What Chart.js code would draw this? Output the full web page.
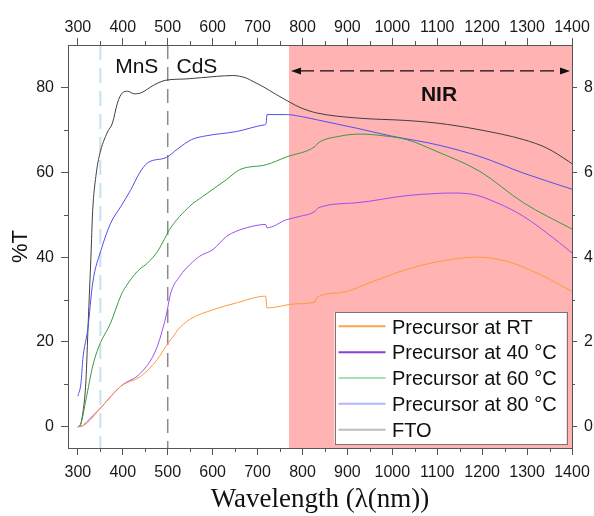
<!DOCTYPE html>
<html><head><meta charset="utf-8">
<script src="https://cdn.jsdelivr.net/npm/chart.js@4"></script>
<style>html,body{margin:0;padding:0;background:#fff}</style>
</head><body>
<canvas id="c" width="594" height="516" style="width:594px;height:516px;display:block"></canvas>
<script>
// ---------- data ----------
const rtNm  = [300,310,321,351,396,440,477,496,515,522,549,601,653,718,721,787,828,831,883,958,1032,1106,1188,1255,1329,1400];
const rtT   = [0,0.2,0.9,4.5,9.6,11.9,15.9,19,21.7,22.8,25.3,27.6,29.2,30.8,28,29,29.4,30.4,31.6,34.3,37.1,39,40,39,35.9,31.9];

const c40Nm = [300,310,321,351,396,440,474,496,507,527,550,571,601,631,653,675,718,721,764,794,828,835,920,1032,1099,1129,1173,1233,1292,1344,1400];
const c40T  = [0,0.2,1.3,4.5,9.6,12.7,18.2,26,31.6,35.5,38.3,40.2,41.8,44.9,46.1,46.9,47.7,46.9,48.8,49.6,50.8,51.6,52.8,54.5,55,55.1,54.9,52.8,49.6,45.7,41];

const c60Nm = [300,307,318,333,347,373,396,407,433,455,477,492,504,549,578,631,660,720,764,828,835,883,928,980,1032,1099,1195,1292,1400];
const c60T  = [0,0.9,6.4,14.3,19,24.5,31,33.1,36.7,38.6,41.3,44.1,46.5,52,54.3,58.3,60.6,61.8,63.6,66.1,66.9,68.5,69,68.6,67.7,64.9,60.2,52.8,46.6];

const c80Nm = [300,307,311,322,333,352,373,396,418,437,455,497,522,553,586,653,716,719,721,764,794,831,920,995,1099,1195,1292,1400];
const c80T  = [7.2,10.4,15.9,23,33.9,41.8,48,52,55.9,59.8,62.2,63.5,65.5,67.7,68.6,69.6,71.2,71.4,73.6,73.6,73.2,72.4,70.4,68.6,66.5,63.7,59.8,56];

const ftoNm = [300,305,310,318,323,329,333,340,348,366,377,388,399,411,425,440,470,496,541,608,645,675,690,712,742,772,794,831,920,1032,1099,1195,1292,1344,1392,1400];
const ftoT  = [0,0.3,2.5,11,24.5,40,51,59,64,69.5,71.6,76.3,78.7,79.1,78.5,78.7,80.6,81.7,82,82.6,82.8,82.2,81.4,80.2,78.3,76.5,75.3,74,72.8,72.2,71.6,70,67.7,65.7,62.6,62];

const seriesLabels = ['Precursor at RT','Precursor at 40 °C','Precursor at 60 °C','Precursor at 80 °C','FTO'];
const nirRange   = [770, 1400];
const edgeLines  = [350, 500];
const regionText = ['MnS','CdS','NIR'];

// ---------- styles ----------
const lineColors   = ['#ff9a3c','#9d4ff0','#3c9a3c','#5050f0','#404040'];
const legendColors = ['#ffa24a','#8a3fe0','#a6e2b4','#b4b4ff','#bdbdbd'];
const axisColor = '#555';

function pts(nm, t){ return nm.map((v,i)=>({x:v, y:t[i]})); }
const allSeries = [[rtNm,rtT],[c40Nm,c40T],[c60Nm,c60T],[c80Nm,c80T],[ftoNm,ftoT]];

const datasets = allSeries.map((s,i)=>({
  label: seriesLabels[i],
  data: pts(s[0], s[1]),
  borderColor: lineColors[i],
  backgroundColor: lineColors[i],
  borderWidth: 1,
  pointRadius: 0,
  cubicInterpolationMode: 'monotone',
  xAxisID: 'x', yAxisID: 'y'
}));

const tickFont = {family: 'Liberation Sans, Arial, sans-serif', size: 16};
const plain = v => String(v);

const decor = {
  id: 'decor',
  beforeDraw(chart){
    const {ctx, chartArea: a, scales:{x}} = chart;
    ctx.save();
    ctx.beginPath(); ctx.rect(a.left, a.top, a.width, a.height); ctx.clip();
    const x0 = x.getPixelForValue(nirRange[0]), x1 = x.getPixelForValue(nirRange[1]);
    ctx.fillStyle = 'rgb(255,179,179)';
    ctx.fillRect(x0, a.top, x1 - x0, a.height);
    const styles = [{c:'#c6e2ee', w:2, d:[15,8]}, {c:'#8a8a8a', w:1.5, d:[14,8]}];
    edgeLines.forEach((v,i)=>{
      const px = x.getPixelForValue(v);
      ctx.strokeStyle = styles[i].c; ctx.lineWidth = styles[i].w; ctx.setLineDash(styles[i].d);
      ctx.beginPath(); ctx.moveTo(px, a.top); ctx.lineTo(px, a.bottom); ctx.stroke();
    });
    ctx.restore();
  },
  afterDraw(chart){
    const {ctx, chartArea: a, scales:{x, y}} = chart;
    ctx.save();
    // minor ticks
    ctx.strokeStyle = axisColor; ctx.lineWidth = 1; ctx.setLineDash([]);
    ctx.beginPath();
    for (let v = 350; v < 1400; v += 100){
      const px = Math.round(x.getPixelForValue(v)) + 0.5;
      ctx.moveTo(px, a.bottom); ctx.lineTo(px, a.bottom + 4);
      ctx.moveTo(px, a.top); ctx.lineTo(px, a.top - 4);
    }
    for (let v = 10; v < 90; v += 20){
      const py = Math.round(y.getPixelForValue(v)) + 0.5;
      ctx.moveTo(a.left, py); ctx.lineTo(a.left - 4, py);
      ctx.moveTo(a.right, py); ctx.lineTo(a.right + 3, py);
    }
    ctx.stroke();

    // region labels
    ctx.fillStyle = '#111';
    ctx.textAlign = 'center'; ctx.textBaseline = 'alphabetic';
    ctx.font = '21px "Liberation Sans", Arial, sans-serif';
    ctx.fillText(regionText[0], x.getPixelForValue(431), y.getPixelForValue(83.3));
    ctx.fillText(regionText[1], x.getPixelForValue(565), y.getPixelForValue(83.3));
    ctx.font = 'bold 21px "Liberation Sans", Arial, sans-serif';
    ctx.fillText(regionText[2], x.getPixelForValue(1104), y.getPixelForValue(76.8));

    // NIR double arrow
    const ay = y.getPixelForValue(83.9);
    const ax0 = x.getPixelForValue(nirRange[0]) + 2, ax1 = x.getPixelForValue(nirRange[1]) - 2;
    ctx.strokeStyle = '#111'; ctx.lineWidth = 1.3; ctx.setLineDash([14,6]);
    ctx.beginPath(); ctx.moveTo(ax0 + 9, ay); ctx.lineTo(ax1 - 9, ay); ctx.stroke();
    ctx.setLineDash([]);
    ctx.fillStyle = '#111';
    ctx.beginPath(); ctx.moveTo(ax0, ay); ctx.lineTo(ax0 + 10, ay - 3.5); ctx.lineTo(ax0 + 10, ay + 3.5); ctx.closePath(); ctx.fill();
    ctx.beginPath(); ctx.moveTo(ax1, ay); ctx.lineTo(ax1 - 10, ay - 3.5); ctx.lineTo(ax1 - 10, ay + 3.5); ctx.closePath(); ctx.fill();

    // legend
    const bw = 232, bh = 132;
    const bx = a.right - 5.5 - bw, by = a.bottom - 4 - bh;
    ctx.fillStyle = '#fff'; ctx.fillRect(bx, by, bw, bh);
    ctx.strokeStyle = '#777'; ctx.lineWidth = 1;
    ctx.strokeRect(Math.round(bx) + 0.5, Math.round(by) + 0.5, bw, bh);
    ctx.font = '20px "Liberation Sans", Arial, sans-serif';
    ctx.textAlign = 'left'; ctx.textBaseline = 'alphabetic';
    chart.data.datasets.forEach((ds, i)=>{
      const base = by + 21.6 + i * 25.85;
      ctx.strokeStyle = legendColors[i]; ctx.lineWidth = 2;
      ctx.beginPath(); ctx.moveTo(bx + 4, base - 7.3); ctx.lineTo(bx + 51, base - 7.3); ctx.stroke();
      ctx.fillStyle = '#111';
      ctx.fillText(ds.label, bx + 57.5, base);
    });
    ctx.restore();
  }
};

function axisCommon(extra){
  return Object.assign({
    type: 'linear',
    border: {display: true, color: axisColor, width: 1},
    grid: {display: true, drawOnChartArea: false, drawTicks: true, tickLength: 7, color: axisColor},
  }, extra);
}
function noPad(s){ s.paddingLeft = 0; s.paddingRight = 0; s.paddingTop = 0; s.paddingBottom = 0; }

new Chart(document.getElementById('c'), {
  type: 'line',
  data: { datasets },
  options: {
    responsive: false, animation: false,
    layout: {padding: 0},
    plugins: {legend: {display: false}, tooltip: {enabled: false}},
    scales: {
      x: axisCommon({
        position: 'bottom', min: 278, max: 1400,
        ticks: {stepSize: 100, includeBounds: false, autoSkip: false, maxRotation: 0, font: tickFont, color: '#1a1a1a', padding: 8, callback: plain},
        title: {display: true, text: 'Wavelength (λ(nm))', color: '#111',
                font: {family: 'Liberation Serif, "Times New Roman", serif', size: 27}, padding: {top: 0, bottom: 0}},
        afterFit(s){ s.height = 68; noPad(s); }
      }),
      x2: axisCommon({
        position: 'top', min: 278, max: 1400,
        ticks: {stepSize: 100, includeBounds: false, autoSkip: false, maxRotation: 0, font: tickFont, color: '#1a1a1a', padding: 1, callback: plain},
        afterFit(s){ s.height = 45; noPad(s); }
      }),
      y: axisCommon({
        position: 'left', min: -5, max: 90,
        ticks: {stepSize: 20, includeBounds: false, autoSkip: false, font: tickFont, color: '#1a1a1a', padding: 7, callback: plain},
        title: {display: true, text: '%T', color: '#111',
                font: {family: 'Liberation Sans, Arial, sans-serif', size: 22}, padding: {top: 8, bottom: 0}},
        afterFit(s){ s.width = 68; noPad(s); }
      }),
      y2: axisCommon({
        position: 'right', min: -0.5, max: 9,
        grid: {display: true, drawOnChartArea: false, drawTicks: true, tickLength: 5, color: axisColor},
        ticks: {stepSize: 2, includeBounds: false, autoSkip: false, font: tickFont, color: '#1a1a1a', padding: 7, callback: plain},
        afterFit(s){ s.width = 22; noPad(s); }
      })
    }
  },
  plugins: [decor]
});
</script>
</body></html>
